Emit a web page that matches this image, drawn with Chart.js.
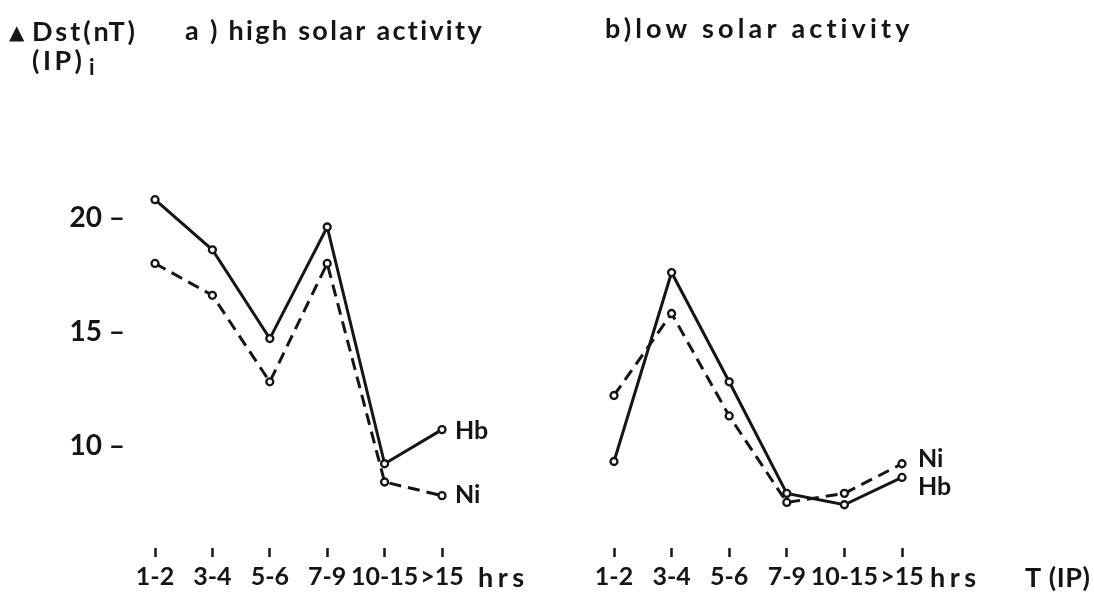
<!DOCTYPE html>
<html>
<head>
<meta charset="utf-8">
<script src="https://cdn.jsdelivr.net/npm/chart.js@4.4.0/dist/chart.umd.min.js"></script>
<style>
  html, body { margin: 0; padding: 0; background: #fff; }
  #wrap { position: relative; width: 1094px; height: 596px; }
  #leftBox { position: absolute; left: 0; top: 0; width: 540px; height: 596px; }
  #rightBox { position: absolute; left: 540px; top: 0; width: 554px; height: 596px; }
</style>
</head>
<body>
<div id="wrap">
  <div id="leftBox"><canvas id="highChart"></canvas></div>
  <div id="rightBox"><canvas id="lowChart"></canvas></div>
</div>
<script>
// Data
const categories = ['1-2', '3-4', '5-6', '7-9', '10-15', '>15'];
const yTicks = [10, 15, 20];
const highHb = [20.8, 18.6, 14.7, 19.6, 9.2, 10.7];
const highNi = [18.0, 16.6, 12.8, 18.0, 8.4, 7.8];
const lowHb = [9.3, 17.6, 12.8, 7.9, 7.4, 8.6];
const lowNi = [12.2, 15.8, 11.3, 7.5, 7.9, 9.2];

const FONT = 'Lato, "Open Sans", sans-serif';
const INK = '#151515';

// Free text (axis titles, panel titles, series names)
const textPlugin = {
    id: 'texts',
    afterDraw(chart, args, opts) {
        const ctx = chart.ctx;
        ctx.save();
        ctx.fillStyle = INK;
        (opts.items || []).forEach(t => {
            ctx.font = `${t.weight || 'bold'} ${t.size}px ${t.family || FONT}`;
            ctx.textAlign = 'left';
            ctx.textBaseline = 'middle';
            ctx.letterSpacing = '0px';
            if (t.w) {
                const m = ctx.measureText(t.text).width;
                ctx.letterSpacing = ((t.w - m) / (t.text.length - 1)).toFixed(2) + 'px';
            }
            ctx.fillText(t.text, t.x, t.y);
        });
        ctx.restore();
    }
};

function makeDatasets(hb, ni) {
    const common = {
        borderColor: INK,
        borderWidth: 3,
        pointRadius: 3.5,
        pointBorderWidth: 2.3,
        pointBackgroundColor: '#fff',
        pointBorderColor: INK,
        tension: 0,
        clip: false
    };
    return [
        Object.assign({ label: 'Hb', data: hb }, common),
        Object.assign({ label: 'Ni', data: ni, borderDash: [12, 7] }, common)
    ];
}

function yScale(show) {
    return {
        type: 'linear',
        min: 5.5,
        max: 22.5,
        display: show,
        afterBuildTicks: s => { s.ticks = yTicks.map(v => ({ value: v })); },
        afterFit: s => { if (show) s.width = 155; },
        grid: { display: false, drawTicks: false },
        border: { display: false },
        ticks: {
            color: INK,
            padding: 30,
            font: { family: FONT, size: 28, weight: 'bold' },
            callback: v => v + ' –'
        }
    };
}

function xScale() {
    return {
        type: 'category',
        offset: false,
        afterFit: s => { s.height = 48; },
        grid: {
            display: true,
            drawOnChartArea: false,
            drawTicks: true,
            tickLength: 9,
            tickWidth: 2.5,
            tickColor: INK
        },
        border: { display: false },
        ticks: {
            color: INK,
            padding: 5,
            maxRotation: 0,
            autoSkip: false,
            font: { family: FONT, size: 25, weight: 'bold' }
        }
    };
}

function baseOptions(padding, texts, showY) {
    return {
        responsive: true,
        maintainAspectRatio: false,
        animation: false,
        layout: { padding: padding },
        plugins: {
            legend: { display: false },
            tooltip: { enabled: false },
            texts: { items: texts }
        },
        scales: { x: xScale(), y: yScale(showY) }
    };
}

try {
    new Chart(document.getElementById('highChart'), {
        type: 'line',
        data: { labels: categories, datasets: makeDatasets(highHb, highNi) },
        options: baseOptions({ left: 0, right: 98, top: 161, bottom: 0 }, [
            { text: '▲', x: 9, y: 34, size: 20, family: '"DejaVu Sans"' },
            { text: 'Dst(nT)', x: 32, y: 32, size: 27, w: 103 },
            { text: '(IP)', x: 32, y: 61, size: 27, w: 50 },
            { text: 'i', x: 89, y: 68, size: 22 },
            { text: 'a ) high solar activity', x: 185, y: 31, size: 27, w: 297 },
            { text: 'Hb', x: 455, y: 431, size: 25 },
            { text: 'Ni', x: 455, y: 495, size: 25 },
            { text: 'hrs', x: 478, y: 578, size: 27, w: 46 }
        ], true),
        plugins: [textPlugin]
    });

    new Chart(document.getElementById('lowChart'), {
        type: 'line',
        data: { labels: categories, datasets: makeDatasets(lowHb, lowNi) },
        options: baseOptions({ left: 74, right: 192, top: 161, bottom: 0 }, [
            { text: 'b)low solar activity', x: 65, y: 29, size: 27, w: 305 },
            { text: 'Ni', x: 378, y: 459, size: 25 },
            { text: 'Hb', x: 378, y: 487, size: 25 },
            { text: 'hrs', x: 390, y: 578, size: 27, w: 46 },
            { text: 'T (IP)', x: 485, y: 578, size: 27, w: 65 }
        ], false),
        plugins: [textPlugin]
    });
} catch (e) {
    console.error('Chart init failed', e);
}
</script>
</body>
</html>
